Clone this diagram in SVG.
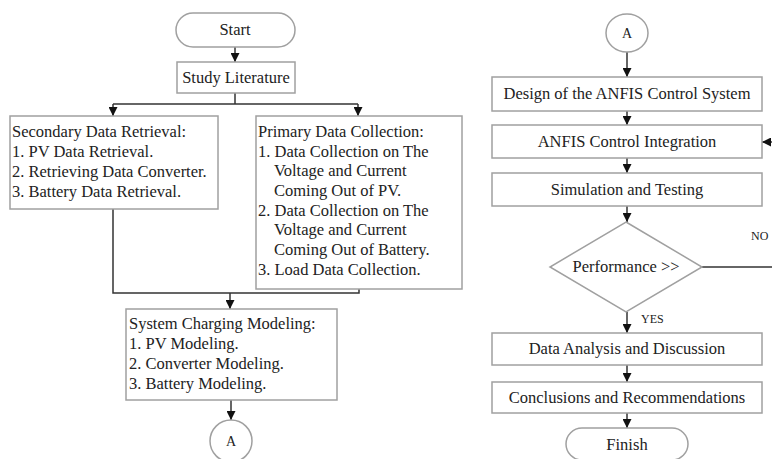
<svg xmlns="http://www.w3.org/2000/svg" width="772" height="459" viewBox="0 0 772 459">
<defs>
<style>
.box{fill:#fff;stroke:#a0a0a0;stroke-width:1.5}
.t{font-family:"Liberation Serif","Times New Roman",serif;font-size:16.5px;fill:#222}
.c{text-anchor:middle}
.ln{fill:none;stroke:#333;stroke-width:1.5}
.s{font-size:12px}
.a{font-size:14px}
</style>
<marker id="ah" viewBox="0 0 10 10" refX="10" refY="5" markerWidth="9" markerHeight="9" markerUnits="userSpaceOnUse" orient="auto">
<path d="M0,0 L10,5 L0,10 Z" fill="#111"/>
</marker>
</defs>
<rect width="772" height="459" fill="#fff"/>
<g id="connectors">
<path class="ln" d="M235,47 V62" marker-end="url(#ah)"/>
<path class="ln" d="M235,93 V104"/>
<path class="ln" d="M113,104 H358"/>
<path class="ln" d="M113,104 V116" marker-end="url(#ah)"/>
<path class="ln" d="M358,104 V116" marker-end="url(#ah)"/>
<path class="ln" d="M113,209 V293 H359 V289"/>
<path class="ln" d="M230,293 V309" marker-end="url(#ah)"/>
<path class="ln" d="M231,400 V420" marker-end="url(#ah)"/>
<path class="ln" d="M627,52 V77" marker-end="url(#ah)"/>
<path class="ln" d="M627,111 V125" marker-end="url(#ah)"/>
<path class="ln" d="M627,158 V173" marker-end="url(#ah)"/>
<path class="ln" d="M627,206 V222" marker-end="url(#ah)"/>
<path class="ln" d="M627,312 V333" marker-end="url(#ah)"/>
<path class="ln" d="M627,365 V382" marker-end="url(#ah)"/>
<path class="ln" d="M627,413 V428" marker-end="url(#ah)"/>
<path class="ln" d="M702,267 H772"/>
<path class="ln" d="M772,142 H762" marker-end="url(#ah)"/>
<text class="t s" x="751" y="240">NO</text>
<text class="t s" x="641" y="323">YES</text>
</g>
<g id="start"><rect class="box" x="176" y="13" width="119" height="34" rx="17"/><text class="t c" x="235" y="35">Start</text></g>
<g id="study"><rect class="box" x="177" y="62" width="118" height="31"/><text class="t c" x="236" y="83">Study Literature</text></g>
<g id="secondary"><rect class="box" x="10" y="116" width="208" height="93"/>
<text class="t" x="12" y="137">Secondary Data Retrieval:</text>
<text class="t" x="12" y="157">1. PV Data Retrieval.</text>
<text class="t" x="12" y="177">2. Retrieving Data Converter.</text>
<text class="t" x="12" y="197">3. Battery Data Retrieval.</text></g>
<g id="primary"><rect class="box" x="256" y="116" width="206" height="173"/>
<text class="t" x="258" y="137">Primary Data Collection:</text>
<text class="t" x="258" y="157">1. Data Collection on The</text>
<text class="t" x="274" y="176">Voltage and Current</text>
<text class="t" x="274" y="196">Coming Out of PV.</text>
<text class="t" x="258" y="216">2. Data Collection on The</text>
<text class="t" x="274" y="235">Voltage and Current</text>
<text class="t" x="274" y="255">Coming Out of Battery.</text>
<text class="t" x="258" y="275">3. Load Data Collection.</text></g>
<g id="system"><rect class="box" x="126" y="309" width="211" height="91"/>
<text class="t" x="129" y="329">System Charging Modeling:</text>
<text class="t" x="129" y="349">1. PV Modeling.</text>
<text class="t" x="129" y="369">2. Converter Modeling.</text>
<text class="t" x="129" y="389">3. Battery Modeling.</text></g>
<g id="connA1"><circle class="box" cx="231" cy="441" r="21"/><text class="t c a" x="231" y="446">A</text></g>
<g id="connA2"><ellipse class="box" cx="627" cy="33" rx="21" ry="19"/><text class="t c a" x="627" y="38">A</text></g>
<g id="design"><rect class="box" x="492" y="77" width="270" height="34"/><text class="t c" x="627" y="99">Design of the ANFIS Control System</text></g>
<g id="anfis"><rect class="box" x="492" y="125" width="270" height="33"/><text class="t c" x="627" y="147">ANFIS Control Integration</text></g>
<g id="sim"><rect class="box" x="492" y="173" width="270" height="33"/><text class="t c" x="627" y="195">Simulation and Testing</text></g>
<g id="perf"><path class="box" d="M626,222 L702,267 L626,312 L550,267 Z"/><text class="t c" x="626" y="272">Performance &gt;&gt;</text></g>
<g id="analysis"><rect class="box" x="492" y="333" width="270" height="32"/><text class="t c" x="627" y="354">Data Analysis and Discussion</text></g>
<g id="concl"><rect class="box" x="492" y="382" width="270" height="31"/><text class="t c" x="627" y="403">Conclusions and Recommendations</text></g>
<g id="finish"><rect class="box" x="566" y="428" width="122" height="32" rx="16"/><text class="t c" x="627" y="450">Finish</text></g>
</svg>
